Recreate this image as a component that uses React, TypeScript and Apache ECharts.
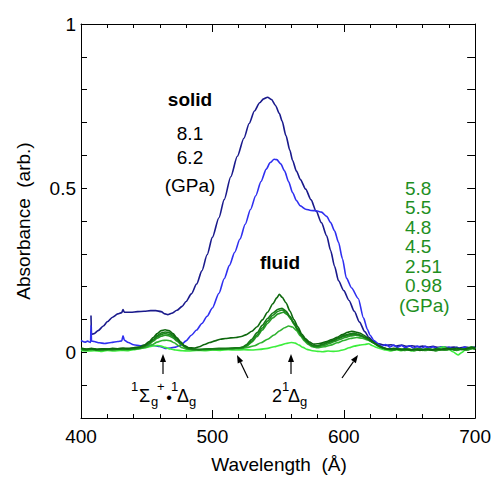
import React, { useEffect, useRef } from "react";
import * as echarts from "echarts";

type Pt = [number, number];

// Absorption spectra: [wavelength (Å), absorbance (arb.)]
const solid81: Pt[] = [
  [407.6, 0.112], [408, 0.055], [410, 0.057], [413, 0.066], [417, 0.08], [420, 0.093], [424, 0.107],
  [428, 0.117], [431, 0.121], [432, 0.13], [433, 0.122], [438, 0.122], [443, 0.124], [448, 0.125],
  [453, 0.127], [457, 0.127], [461, 0.124], [464, 0.117], [466, 0.115], [469, 0.119], [473, 0.128],
  [477, 0.14], [480, 0.155], [484, 0.178], [488, 0.208], [492, 0.248], [496, 0.297], [500, 0.35],
  [505, 0.41], [509, 0.465], [514, 0.535], [519, 0.597], [524, 0.652], [528, 0.697], [532, 0.735],
  [536, 0.76], [539, 0.772], [542, 0.777], [545, 0.77], [548, 0.752], [551, 0.727], [553, 0.705],
  [556, 0.66], [559, 0.615], [561, 0.585], [564, 0.552], [567, 0.526], [571, 0.497], [575, 0.465],
  [579, 0.43], [583, 0.395], [587, 0.355], [590, 0.31], [593, 0.262], [596, 0.218], [600, 0.188],
  [604, 0.158], [608, 0.125], [612, 0.092], [616, 0.063], [619, 0.046], [622, 0.035], [626, 0.027],
  [629, 0.024], [632, 0.021], [636, 0.023], [640, 0.019], [644, 0.022], [648, 0.018], [652, 0.02],
  [656, 0.017], [660, 0.019], [664, 0.016], [668, 0.018], [672, 0.015], [676, 0.017], [680, 0.014],
  [684, 0.016], [688, 0.013], [692, 0.016], [696, 0.014], [700, 0.016],
];

const solid62: Pt[] = [
  [400, 0.036], [403, 0.031], [405, 0.034], [407.3, 0.03], [407.6, 0.082], [408, 0.034], [410, 0.033],
  [414, 0.029], [418, 0.027], [423, 0.03], [428, 0.033], [431, 0.035], [432, 0.05], [433, 0.037],
  [436, 0.03], [440, 0.023], [445, 0.02], [450, 0.021], [455, 0.021], [460, 0.018], [464, 0.012],
  [468, 0.013], [472, 0.016], [476, 0.022], [480, 0.035], [484, 0.052], [488, 0.068], [492, 0.088],
  [496, 0.11], [500, 0.135], [505, 0.18], [509, 0.224], [513, 0.265], [517, 0.305], [521, 0.345],
  [525, 0.39], [529, 0.435], [533, 0.477], [537, 0.52], [541, 0.558], [544, 0.578], [547, 0.588],
  [549, 0.587], [552, 0.574], [555, 0.552], [558, 0.52], [561, 0.487], [564, 0.462], [567, 0.446],
  [571, 0.436], [575, 0.432], [579, 0.431], [583, 0.427], [587, 0.414], [590, 0.395], [593, 0.37],
  [596, 0.335], [599, 0.285], [602, 0.226], [606, 0.196], [611, 0.164], [615, 0.105], [618, 0.07],
  [620, 0.052], [623, 0.036], [626, 0.026], [629, 0.018], [632, 0.024], [635, 0.016], [638, 0.022],
  [641, 0.015], [644, 0.021], [647, 0.014], [650, 0.02], [653, 0.013], [656, 0.019], [659, 0.012],
  [662, 0.018], [665, 0.012], [668, 0.017], [671, 0.011], [674, 0.016], [677, 0.01], [680, 0.016],
  [683, 0.009], [686, 0.015], [689, 0.01], [692, 0.016], [695, 0.01], [698, 0.015], [700, 0.012],
];

const fluid58: Pt[] = [
  [400, 0.013], [404, 0.01], [408, 0.012], [412, 0.009], [416, 0.011], [420, 0.01], [424, 0.012],
  [428, 0.011], [432, 0.013], [436, 0.012], [440, 0.014], [444, 0.016], [448, 0.022], [452, 0.033],
  [455, 0.045], [458, 0.057], [461, 0.066], [464, 0.069], [467, 0.066], [470, 0.057], [473, 0.044],
  [476, 0.031], [479, 0.02], [482, 0.014], [486, 0.013], [490, 0.017], [494, 0.024], [498, 0.03],
  [502, 0.035], [506, 0.04], [510, 0.042], [514, 0.044], [518, 0.045], [522, 0.048], [526, 0.054],
  [530, 0.064], [534, 0.078], [538, 0.099], [542, 0.122], [546, 0.148], [549, 0.166], [551, 0.177],
  [553, 0.168], [556, 0.151], [559, 0.126], [562, 0.1], [565, 0.078], [568, 0.056], [571, 0.041],
  [574, 0.031], [577, 0.025], [580, 0.026], [583, 0.028], [587, 0.033], [591, 0.039], [595, 0.046],
  [599, 0.054], [603, 0.061], [606, 0.064], [609, 0.062], [612, 0.059], [615, 0.053], [618, 0.045],
  [621, 0.036], [624, 0.027], [627, 0.019], [630, 0.014], [634, 0.01], [638, 0.012], [642, 0.008],
  [646, 0.011], [650, 0.007], [654, 0.01], [658, 0.006], [662, 0.01], [666, 0.007], [670, 0.011],
  [674, 0.008], [678, 0.012], [682, 0.009], [686, 0.013], [690, 0.008], [694, 0.012], [697, 0.016],
  [700, 0.013],
];

const fluid55: Pt[] = [
  [400, 0.011], [404, 0.009], [408, 0.01], [412, 0.008], [416, 0.01], [420, 0.009], [424, 0.011],
  [428, 0.01], [432, 0.011], [436, 0.01], [440, 0.012], [444, 0.014], [448, 0.019], [452, 0.029],
  [455, 0.04], [458, 0.051], [461, 0.059], [464, 0.062], [467, 0.06], [470, 0.052], [473, 0.04],
  [476, 0.028], [479, 0.018], [482, 0.012], [486, 0.01], [490, 0.009], [495, 0.01], [500, 0.011],
  [505, 0.012], [510, 0.012], [515, 0.013], [520, 0.014], [523, 0.016], [526, 0.024], [530, 0.04],
  [534, 0.06], [538, 0.082], [542, 0.103], [546, 0.12], [550, 0.131], [553, 0.134], [556, 0.126],
  [559, 0.11], [562, 0.09], [565, 0.07], [568, 0.051], [571, 0.037], [574, 0.026], [577, 0.02],
  [580, 0.02], [584, 0.025], [588, 0.031], [592, 0.037], [596, 0.044], [600, 0.051], [604, 0.056],
  [607, 0.058], [610, 0.056], [613, 0.052], [616, 0.046], [619, 0.039], [622, 0.031], [625, 0.023],
  [628, 0.016], [632, 0.011], [636, 0.009], [640, 0.012], [644, 0.008], [648, 0.01], [652, 0.007],
  [656, 0.011], [660, 0.008], [664, 0.01], [668, 0.006], [672, 0.01], [676, 0.009], [680, 0.012],
  [684, 0.008], [688, 0.011], [692, 0.009], [696, 0.014], [700, 0.012],
];

const fluid48: Pt[] = [
  [400, 0.01], [404, 0.008], [408, 0.011], [412, 0.009], [416, 0.008], [420, 0.01], [424, 0.009],
  [428, 0.011], [432, 0.01], [436, 0.011], [440, 0.011], [444, 0.013], [448, 0.018], [452, 0.027],
  [455, 0.037], [458, 0.047], [461, 0.054], [464, 0.057], [467, 0.055], [470, 0.048], [473, 0.037],
  [476, 0.026], [479, 0.017], [482, 0.011], [486, 0.009], [490, 0.008], [495, 0.009], [500, 0.01],
  [505, 0.011], [510, 0.011], [515, 0.012], [520, 0.013], [523, 0.015], [526, 0.021], [530, 0.035],
  [534, 0.053], [538, 0.074], [542, 0.095], [546, 0.113], [550, 0.125], [553, 0.129], [556, 0.122],
  [559, 0.107], [562, 0.087], [565, 0.067], [568, 0.049], [571, 0.035], [574, 0.025], [577, 0.019],
  [580, 0.018], [584, 0.023], [588, 0.029], [592, 0.035], [596, 0.042], [600, 0.048], [604, 0.053],
  [608, 0.055], [611, 0.053], [614, 0.049], [617, 0.043], [620, 0.036], [623, 0.028], [626, 0.02],
  [629, 0.014], [633, 0.01], [637, 0.008], [641, 0.011], [645, 0.007], [649, 0.01], [653, 0.006],
  [657, 0.01], [661, 0.007], [665, 0.01], [669, 0.006], [673, 0.009], [677, 0.008], [681, 0.011],
  [685, 0.007], [689, 0.011], [693, 0.008], [697, 0.013], [700, 0.011],
];

const fluid45: Pt[] = [
  [400, 0.009], [404, 0.007], [408, 0.01], [412, 0.008], [416, 0.007], [420, 0.009], [424, 0.008],
  [428, 0.01], [432, 0.009], [436, 0.01], [440, 0.01], [444, 0.012], [448, 0.016], [452, 0.025],
  [455, 0.034], [458, 0.043], [461, 0.049], [464, 0.052], [467, 0.05], [470, 0.044], [473, 0.034],
  [476, 0.024], [479, 0.016], [482, 0.01], [486, 0.008], [490, 0.008], [495, 0.009], [500, 0.009],
  [505, 0.01], [510, 0.011], [515, 0.011], [520, 0.012], [523, 0.014], [526, 0.019], [530, 0.031],
  [534, 0.048], [538, 0.068], [542, 0.088], [546, 0.105], [550, 0.117], [554, 0.122], [557, 0.115],
  [560, 0.1], [563, 0.081], [566, 0.061], [569, 0.044], [572, 0.031], [575, 0.022], [578, 0.017],
  [581, 0.017], [585, 0.021], [589, 0.027], [593, 0.033], [597, 0.039], [601, 0.045], [605, 0.05],
  [609, 0.052], [612, 0.05], [615, 0.046], [618, 0.04], [621, 0.033], [624, 0.026], [627, 0.019],
  [630, 0.013], [634, 0.009], [638, 0.007], [642, 0.01], [646, 0.006], [650, 0.009], [654, 0.005],
  [658, 0.009], [662, 0.006], [666, 0.009], [670, 0.005], [674, 0.008], [678, 0.007], [682, 0.01],
  [686, 0.006], [690, 0.01], [694, 0.007], [698, 0.012], [700, 0.01],
];

const fluid251: Pt[] = [
  [400, 0.009], [405, 0.007], [410, 0.008], [415, 0.006], [420, 0.008], [425, 0.007], [430, 0.009],
  [435, 0.008], [440, 0.01], [445, 0.012], [450, 0.016], [454, 0.023], [458, 0.031], [462, 0.036],
  [465, 0.037], [468, 0.035], [471, 0.029], [474, 0.021], [477, 0.014], [481, 0.009], [486, 0.007],
  [492, 0.008], [498, 0.009], [504, 0.009], [510, 0.01], [516, 0.011], [522, 0.012], [527, 0.015],
  [532, 0.02], [537, 0.029], [542, 0.04], [547, 0.053], [551, 0.065], [555, 0.075], [558, 0.08],
  [561, 0.077], [564, 0.066], [567, 0.05], [570, 0.035], [573, 0.024], [576, 0.017], [580, 0.014],
  [585, 0.017], [590, 0.022], [595, 0.029], [600, 0.036], [605, 0.042], [610, 0.045], [614, 0.043],
  [618, 0.038], [622, 0.03], [626, 0.021], [630, 0.014], [634, 0.01], [638, 0.008], [642, 0.011],
  [646, 0.007], [650, 0.009], [654, 0.006], [658, 0.01], [662, 0.007], [666, 0.009], [670, 0.005],
  [674, 0.009], [678, 0.008], [682, 0.011], [686, 0.007], [690, 0.01], [694, 0.008], [698, 0.012],
  [700, 0.01],
];

const fluid098: Pt[] = [
  [400, 0.006], [405, 0.004], [410, 0.005], [415, 0.003], [420, 0.006], [425, 0.004], [430, 0.006],
  [435, 0.005], [440, 0.008], [445, 0.011], [450, 0.015], [454, 0.019], [458, 0.021], [461, 0.019],
  [464, 0.015], [468, 0.01], [472, 0.007], [477, 0.005], [482, 0.004], [488, 0.006], [494, 0.005],
  [500, 0.007], [506, 0.006], [512, 0.008], [518, 0.007], [524, 0.008], [530, 0.007], [536, 0.009],
  [542, 0.012], [547, 0.017], [552, 0.022], [556, 0.027], [560, 0.03], [563, 0.028], [566, 0.022],
  [569, 0.015], [572, 0.009], [576, 0.005], [580, 0.003], [584, 0.002], [588, 0.004], [592, 0.003],
  [596, 0.004], [600, 0.008], [604, 0.014], [608, 0.019], [612, 0.022], [616, 0.024], [619, 0.026],
  [622, 0.02], [625, 0.015], [628, 0.011], [632, 0.007], [636, 0.004], [640, 0.008], [644, 0.005],
  [648, 0.009], [652, 0.004], [656, 0.008], [660, 0.006], [664, 0.01], [668, 0.007], [672, 0.012],
  [676, 0.017], [679, 0.011], [683, 0.002], [687, -0.008], [690, 0.0], [693, 0.01], [697, 0.016],
  [700, 0.012],
];

const solidPressures = ["8.1", "6.2", "(GPa)"];
const fluidPressures = ["5.8", "5.5", "4.8", "4.5", "2.51", "0.98", "(GPa)"];
const yLabelValues = [0, 0.5, 1];

const FONT = '"Liberation Sans", Arial, Helvetica, sans-serif';
const GREEN_TEXT = "#1f8f1f";

const seriesDefs: { name: string; data: Pt[]; color: string }[] = [
  { name: "8.1 GPa", data: solid81, color: "#1a1a8c" },
  { name: "6.2 GPa", data: solid62, color: "#2f2ff0" },
  { name: "0.98 GPa", data: fluid098, color: "#3cee3c" },
  { name: "2.51 GPa", data: fluid251, color: "#2fb22f" },
  { name: "4.5 GPa", data: fluid45, color: "#279a27" },
  { name: "4.8 GPa", data: fluid48, color: "#1f8a1f" },
  { name: "5.5 GPa", data: fluid55, color: "#167a16" },
  { name: "5.8 GPa", data: fluid58, color: "#0e680e" },
];

function text(x: number, y: number, s: string, size: number, opts: any = {}) {
  return {
    type: "text",
    x,
    y,
    rotation: opts.rotation || 0,
    silent: true,
    style: {
      text: s,
      font: `${opts.bold ? "bold " : ""}${size}px ${FONT}`,
      fill: opts.fill || "#000",
      textAlign: opts.align || "center",
      textVerticalAlign: "middle",
    },
  };
}

function arrow(tail: Pt, tip: Pt) {
  const dx = tip[0] - tail[0];
  const dy = tip[1] - tail[1];
  const len = Math.hypot(dx, dy);
  const ux = dx / len;
  const uy = dy / len;
  const headLen = 8;
  const halfW = 3;
  const bx = tip[0] - ux * headLen;
  const by = tip[1] - uy * headLen;
  return [
    {
      type: "line",
      silent: true,
      shape: { x1: tail[0], y1: tail[1], x2: bx, y2: by },
      style: { stroke: "#000", lineWidth: 1.2 },
    },
    {
      type: "polygon",
      silent: true,
      shape: {
        points: [
          [tip[0], tip[1]],
          [bx - uy * halfW, by + ux * halfW],
          [bx + uy * halfW, by - ux * halfW],
        ],
      },
      style: { fill: "#000" },
    },
  ];
}

function frameAxisLine() {
  return { show: true, onZero: false, lineStyle: { color: "#000", width: 1 } };
}

function xAxisDef(position: "bottom" | "top", withLabels: boolean) {
  return {
    type: "value",
    position,
    min: 400,
    max: 700,
    interval: 100,
    axisLine: frameAxisLine(),
    axisTick: { show: true, inside: true, length: 8 },
    minorTick: { show: true, splitNumber: 5, length: 4 },
    splitLine: { show: false },
    axisLabel: withLabels
      ? { show: true, fontSize: 19, color: "#000", fontFamily: FONT, margin: 9 }
      : { show: false },
  };
}

function yAxisDef(position: "left" | "right", tickLen: number) {
  return {
    type: "value",
    position,
    min: -0.2,
    max: 1,
    interval: 0.1,
    axisLine: frameAxisLine(),
    axisTick: { show: true, inside: true, length: tickLen },
    splitLine: { show: false },
    axisLabel: { show: false },
  };
}

export default function App() {
  const ref = useRef<HTMLDivElement>(null);

  useEffect(() => {
    if (!ref.current) return;
    const chart = echarts.init(ref.current, null, { renderer: "svg" });

    const graphics: any[] = [
      // axis titles
      text(279, 464, "Wavelength\u00a0\u00a0(Å)", 19),
      text(23, 221, "Absorbance\u00a0\u00a0(arb.)", 19, { rotation: Math.PI / 2 }),
      // phase and pressure labels
      text(190, 99, "solid", 19, { bold: true }),
      ...solidPressures.map((s, i) => text(190, [133, 157, 185][i], s, 19)),
      text(280, 262, "fluid", 19, { bold: true }),
      ...fluidPressures.map((s, i) =>
        text(i === fluidPressures.length - 1 ? 399 : 405, 188 + i * 19.5, s, 19, {
          fill: GREEN_TEXT,
          align: "left",
        })
      ),
      // ¹Σg⁺•¹Δg
      text(131, 386, "1", 13, { align: "left" }),
      text(139, 396, "Σ", 18, { align: "left" }),
      text(151, 401, "g", 13, { align: "left" }),
      text(157, 386, "+", 13, { align: "left" }),
      text(169, 397, "•", 16),
      text(171, 386, "1", 13, { align: "left" }),
      text(177, 396, "Δ", 18, { align: "left" }),
      text(189, 401, "g", 13, { align: "left" }),
      // 2¹Δg
      text(272, 396, "2", 18, { align: "left" }),
      text(282, 386, "1", 13, { align: "left" }),
      text(288, 396, "Δ", 18, { align: "left" }),
      text(300, 401, "g", 13, { align: "left" }),
      ...arrow([163, 374], [163, 354]),
      ...arrow([291, 374], [291, 354]),
      ...arrow([248, 378], [237, 355]),
      ...arrow([342, 378], [358, 355]),
    ];

    const yLeft: any = {
      ...yAxisDef("left", 6),
      axisLabel: {
        show: true,
        fontSize: 19,
        color: "#000",
        fontFamily: FONT,
        margin: 5,
        formatter: (v: number) =>
          yLabelValues.some((t) => Math.abs(t - v) < 1e-6) ? String(Math.round(v * 10) / 10) : "",
      },
    };

    const option: any = {
      animation: false,
      backgroundColor: "#fff",
      grid: { left: 81, right: 17, top: 24, bottom: 59 },
      xAxis: [xAxisDef("bottom", true), xAxisDef("top", false)],
      yAxis: [yLeft, yAxisDef("right", 8)],
      series: seriesDefs.map((s) => ({
        name: s.name,
        type: "line",
        xAxisIndex: 0,
        yAxisIndex: 0,
        data: s.data,
        showSymbol: false,
        symbol: "none",
        smooth: 0.25,
        smoothMonotone: "x",
        lineStyle: { color: s.color, width: 1.6 },
        itemStyle: { color: s.color },
      })),
      graphic: graphics,
    };

    chart.setOption(option);
    return () => chart.dispose();
  }, []);

  return (
    <div
      ref={ref}
      style={{ position: "absolute", left: 0, top: 0, width: 494, height: 477, background: "#fff" }}
    />
  );
}
